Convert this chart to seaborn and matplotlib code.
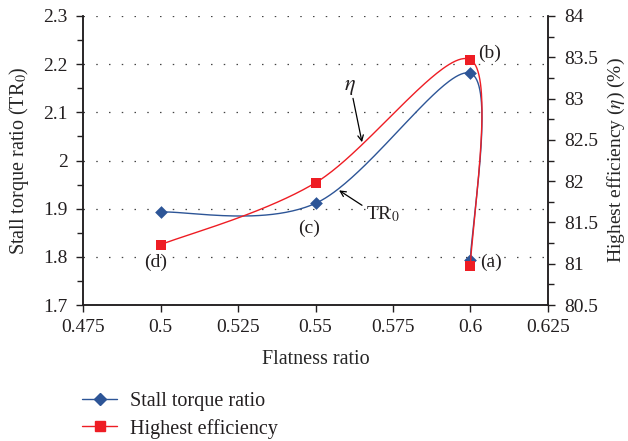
import numpy as np
import matplotlib
matplotlib.use("Agg")
import matplotlib.pyplot as plt
from matplotlib.lines import Line2D
from matplotlib.ticker import MultipleLocator, FixedLocator
import seaborn as sns

# Measured design points, in the order (d), (c), (b), (a)
flatness = [0.50, 0.55, 0.60, 0.60]
stall_torque = [1.893, 1.911, 2.181, 1.794]
efficiency = [81.23, 81.98, 83.47, 80.97]
point_tags = ["(d)", "(c)", "(b)", "(a)"]

x_ticks = [0.475, 0.5, 0.525, 0.55, 0.575, 0.6, 0.625]
x_tick_labels = ["0.475", "0.5", "0.525", "0.55", "0.575", "0.6", "0.625"]
tr_ticks = [1.7, 1.8, 1.9, 2.0, 2.1, 2.2, 2.3]
tr_tick_labels = ["1.7", "1.8", "1.9", "2", "2.1", "2.2", "2.3"]
eta_ticks = [80.5, 81, 81.5, 82, 82.5, 83, 83.5, 84]
eta_tick_labels = ["80.5", "81", "81.5", "82", "82.5", "83", "83.5", "84"]

BLUE = "#2D5597"
RED = "#EE1D24"
INK = "#231F20"

sns.set_style("ticks")
plt.rcParams["font.family"] = ["Liberation Serif", "DejaVu Serif"]
plt.rcParams["mathtext.fontset"] = "stix"
plt.rcParams["axes.edgecolor"] = INK
plt.rcParams["xtick.color"] = INK
plt.rcParams["ytick.color"] = INK
plt.rcParams["text.color"] = INK

x_range = (0.475, 0.625)
tr_range = (1.7, 2.3)
eta_range = (80.5, 84.0)

W_PX, H_PX = 465.0, 289.0
TICK_FS = 14
LABEL_FS = 14.5


def smooth(xs, ys, xr, yr, n=80):
    """Catmull-Rom Bezier smoothing, computed in screen-proportional units."""
    aspect = H_PX / W_PX
    px = (np.asarray(xs, float) - xr[0]) / (xr[1] - xr[0])
    py = (np.asarray(ys, float) - yr[0]) / (yr[1] - yr[0]) * aspect
    P = np.column_stack([px, py])
    ext = np.vstack([P[0], P, P[-1]])
    t = np.linspace(0, 1, n)[:, None]
    parts = []
    for i in range(len(P) - 1):
        p0, p3 = ext[i + 1], ext[i + 2]
        c1 = p0 + (ext[i + 2] - ext[i]) / 6.0
        c2 = p3 - (ext[i + 3] - ext[i + 1]) / 6.0
        seg = ((1 - t) ** 3) * p0 + 3 * ((1 - t) ** 2) * t * c1 \
            + 3 * (1 - t) * t ** 2 * c2 + t ** 3 * p3
        parts.append(seg if i == 0 else seg[1:])
    S = np.vstack(parts)
    sx = xr[0] + S[:, 0] * (xr[1] - xr[0])
    sy = yr[0] + S[:, 1] / aspect * (yr[1] - yr[0])
    return sx, sy


fig = plt.figure(figsize=(6.28, 4.41), dpi=100)
ax = fig.add_axes([83 / 628, 1 - 305 / 441, 465 / 628, 289 / 441])
ax2 = ax.twinx()

# Stall torque ratio (left axis)
tx, ty = smooth(flatness, stall_torque, x_range, tr_range)
sns.lineplot(x=tx, y=ty, sort=False, estimator=None, ax=ax,
             color=BLUE, linewidth=1.0)
sns.scatterplot(x=flatness, y=stall_torque, ax=ax, marker="D", s=42,
                color=BLUE, edgecolor=BLUE, linewidth=0, zorder=4)

# Highest efficiency (right axis)
ex, ey = smooth(flatness, efficiency, x_range, eta_range)
sns.lineplot(x=ex, y=ey, sort=False, estimator=None, ax=ax2,
             color=RED, linewidth=1.0)
sns.scatterplot(x=flatness, y=efficiency, ax=ax2, marker="s", s=55,
                color=RED, edgecolor=RED, linewidth=0, zorder=4)

for a in (ax, ax2):
    a.set_xlim(*x_range)
    a.spines["top"].set_visible(False)
    for s in ("left", "right", "bottom"):
        a.spines[s].set_linewidth(1.1)

ax.set_ylim(*tr_range)
ax2.set_ylim(*eta_range)

ax.xaxis.set_major_locator(FixedLocator(x_ticks))
ax.set_xticklabels(x_tick_labels)
ax.yaxis.set_major_locator(FixedLocator(tr_ticks))
ax.set_yticklabels(tr_tick_labels)
ax.yaxis.set_minor_locator(MultipleLocator(0.05))
ax2.yaxis.set_major_locator(FixedLocator(eta_ticks))
ax2.set_yticklabels(eta_tick_labels)
ax2.yaxis.set_minor_locator(MultipleLocator(0.25))

for a in (ax, ax2):
    a.tick_params(axis="both", which="major", direction="out", length=5,
                  width=1.0, labelsize=TICK_FS)
    a.tick_params(axis="y", which="minor", direction="out", length=4,
                  width=1.0)
ax.tick_params(axis="x", pad=5)
ax.tick_params(axis="y", which="major", pad=6)
ax2.tick_params(axis="y", which="major", pad=7)

ax.yaxis.grid(True, which="major", linestyle=(0, (1.2, 9)),
              color="#444444", linewidth=0.9)
ax.xaxis.grid(False)
ax2.grid(False)

ax.set_xlabel("Flatness ratio", fontsize=LABEL_FS)
ax.xaxis.set_label_coords(0.5, -0.155)
ax.set_ylabel("Stall torque ratio (TR$_0$)", fontsize=LABEL_FS)
ax.yaxis.set_label_coords(-0.112, 0.5)
ax2.set_ylabel(r"Highest efficiency ($\eta$) (%)", fontsize=14,
               rotation=90)
ax2.yaxis.set_label_coords(1.125, 0.5)

# Point tags
tag_pos = [(0.4985, 1.789), (0.5479, 1.859), (0.6063, 2.2226), (0.6066, 1.789)]
for tag, (px, py) in zip(point_tags, tag_pos):
    ax.text(px, py, tag, fontsize=TICK_FS, ha="center", va="center")

# Curve callouts
arrow = dict(arrowstyle="->", color="black", lw=0.9, shrinkA=0, shrinkB=0)
ax.annotate("", xy=(0.5650, 2.038), xytext=(0.5621, 2.129), arrowprops=arrow)
ax.text(0.5611, 2.152, r"$\eta$", fontsize=16, ha="center", va="center")
ax.annotate("", xy=(0.5576, 1.938), xytext=(0.5650, 1.907), arrowprops=arrow)
ax.text(0.5718, 1.888, "TR$_0$", fontsize=TICK_FS, ha="center", va="center")

handles = [
    Line2D([], [], color=BLUE, marker="D", markersize=6.5, linewidth=1.0),
    Line2D([], [], color=RED, marker="s", markersize=7.5, linewidth=1.0),
]
fig.legend(handles, ["Stall torque ratio", "Highest efficiency"],
           loc="center left", bbox_to_anchor=(82 / 628, 1 - 415 / 441),
           frameon=False, fontsize=LABEL_FS, handlelength=1.75,
           handletextpad=0.65, labelspacing=0.4, borderpad=0,
           borderaxespad=0)

fig.savefig("out.png", dpi=100)
